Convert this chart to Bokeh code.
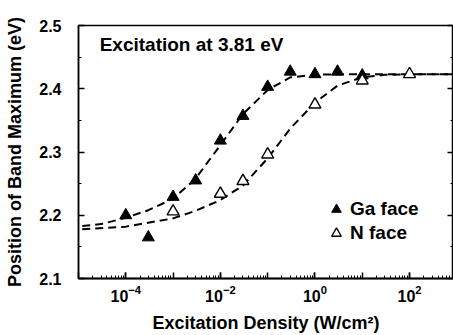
from bokeh.plotting import figure
from bokeh.models import (FixedTicker, LogAxis, LinearAxis, Legend, LegendItem, Label,
                          Range1d, LogTickFormatter)
from bokeh.embed import file_html
from bokeh.resources import INLINE

# ---- data ----
ga_x = [1e-4, 3e-4, 1e-3, 3e-3, 1e-2, 3e-2, 1e-1, 3e-1, 1, 3, 10]
ga_y = [2.200, 2.165, 2.229, 2.255, 2.318, 2.357, 2.403, 2.427, 2.423, 2.427, 2.421]

n_x = [1e-3, 1e-2, 3e-2, 1e-1, 1, 10, 100]
n_y = [2.206, 2.234, 2.254, 2.296, 2.375, 2.413, 2.423]

ga_fit_x = [1.2e-5, 3e-5, 1e-4, 3e-4, 1e-3, 3e-3, 1e-2, 3e-2, 1e-1, 3e-1, 1, 3, 10, 100, 1000]
ga_fit_y = [2.183, 2.186, 2.196, 2.208, 2.226, 2.258, 2.311, 2.360, 2.398, 2.418, 2.422, 2.423, 2.423, 2.423, 2.423]

n_fit_x = [1.2e-5, 1e-4, 1e-3, 3e-3, 1e-2, 3e-2, 1e-1, 3e-1, 1, 3, 10, 30, 100, 1000]
n_fit_y = [2.178, 2.182, 2.195, 2.207, 2.224, 2.247, 2.290, 2.337, 2.378, 2.405, 2.418, 2.422, 2.423, 2.423]

x_major = [1e-5, 1e-4, 1e-3, 1e-2, 1e-1, 1, 10, 100, 1000]
x_labeled = [1e-4, 1e-2, 1, 100]
y_major = [2.1, 2.2, 2.3, 2.4, 2.5]
y_minor = [2.15, 2.25, 2.35, 2.45]

annotation = "Excitation at 3.81 eV"
x_title = "Excitation Density (W/cm\u00b2)"
y_title = "Position of Band Maximum (eV)"
series_names = ["Ga face", "N face"]

FONT = "Liberation Sans"

p = figure(width=453, height=335, x_axis_type="log", x_axis_location=None,
           output_backend="svg", toolbar_location=None,
           x_range=Range1d(1e-5, 850), y_range=Range1d(2.1, 2.5),
           min_border_left=78, min_border_top=25, min_border_right=0, min_border_bottom=57)
p.grid.visible = False
p.outline_line_color = "black"
p.outline_line_width = 1.5
p.background_fill_color = "white"
p.border_fill_color = "white"

# fits
p.line(ga_fit_x, ga_fit_y, line_color="black", line_width=2, line_dash="8 5")
p.line(n_fit_x, n_fit_y, line_color="black", line_width=2, line_dash="8 5")

r_ga = p.scatter(ga_x, ga_y, marker="triangle", size=12, fill_color="black", line_color="black")
r_n = p.scatter(n_x, n_y, marker="triangle", size=12, fill_color="white", line_color="black",
                line_width=1.4)

minor_x = []
for d in x_major:
    for k in range(2, 10):
        minor_x.append(d * k)


def style_ticks(ax):
    ax.major_tick_in = 6
    ax.major_tick_out = 0
    ax.minor_tick_in = 3
    ax.minor_tick_out = 0
    ax.axis_line_width = 1.5
    ax.major_tick_line_width = 1.5
    ax.minor_tick_line_width = 1
    ax.major_tick_line_color = "black"
    ax.minor_tick_line_color = "black"
    ax.axis_line_color = "black"


# bottom: unlabelled ticks at every decade (closest to the frame)
xt = LogAxis(ticker=FixedTicker(ticks=x_major, minor_ticks=minor_x),
             major_label_text_color=None, major_label_standoff=0)
style_ticks(xt)
p.add_layout(xt, "below")

# bottom: labelled decades
xa = LogAxis(ticker=FixedTicker(ticks=x_labeled, minor_ticks=[]),
             formatter=LogTickFormatter(), axis_label=x_title)
style_ticks(xa)
p.add_layout(xa, "below")

ya = p.yaxis[0]
ya.ticker = FixedTicker(ticks=y_major, minor_ticks=y_minor)
ya.axis_label = y_title
style_ticks(ya)

for ax in (xa, ya):
    ax.major_label_text_font = FONT
    ax.major_label_text_font_size = "16px"
    ax.major_label_text_font_style = "bold"
    ax.major_label_text_color = "black"
    ax.axis_label_text_font = FONT
    ax.axis_label_text_font_size = "18px"
    ax.axis_label_text_font_style = "bold"
    ax.axis_label_text_color = "black"

xa.major_label_standoff = 6
xa.axis_label_standoff = 8
ya.major_label_standoff = 17
ya.axis_label_standoff = 11

ra = LinearAxis(ticker=FixedTicker(ticks=y_major, minor_ticks=y_minor),
                major_label_text_color=None, major_label_standoff=0)
style_ticks(ra)
p.add_layout(ra, "right")

p.add_layout(Label(x=2.8e-5, y=2.47, text=annotation,
                   text_font=FONT, text_font_size="19px", text_font_style="bold",
                   text_baseline="middle", text_color="black"))

legend = Legend(items=[LegendItem(label=series_names[0], renderers=[r_ga]),
                       LegendItem(label=series_names[1], renderers=[r_n])],
                location=(246, 33), border_line_color=None, background_fill_alpha=0,
                label_text_font=FONT, label_text_font_size="19px",
                label_text_font_style="bold", label_text_color="black",
                glyph_width=24, glyph_height=24, label_height=20, spacing=-2,
                padding=0, margin=0, label_standoff=2)
p.add_layout(legend)

open("out.html", "w").write(file_html(p, INLINE))
